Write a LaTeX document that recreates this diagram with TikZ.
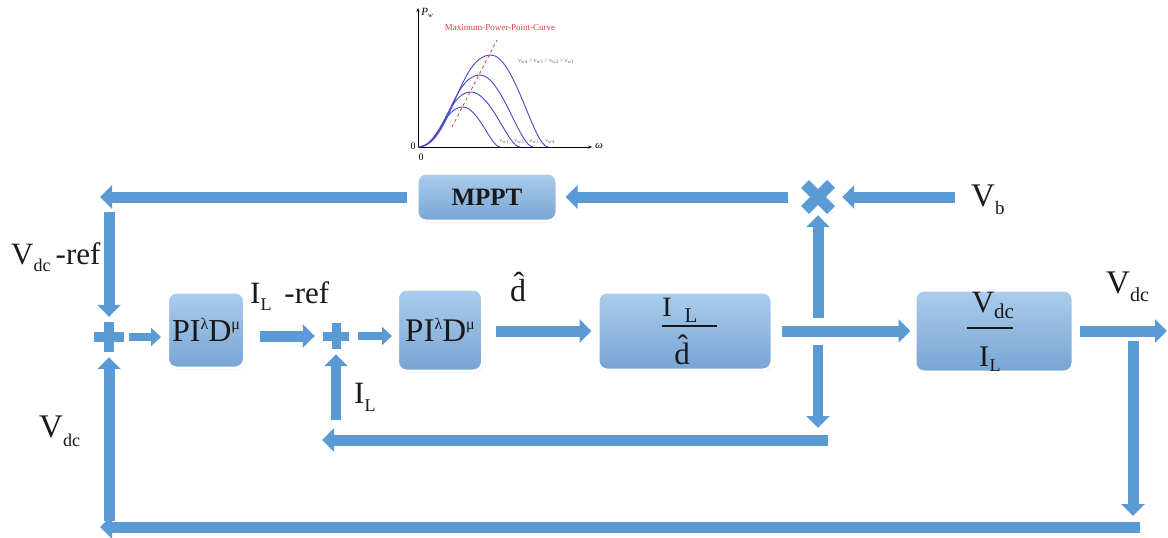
\documentclass[tikz,border=0pt]{standalone}
\usepackage{fontspec}
\setmainfont{Liberation Serif}
\usetikzlibrary{arrows.meta,shadows}
\definecolor{ablue}{RGB}{91,155,213}
\definecolor{boxtop}{RGB}{172,205,236}
\definecolor{boxbot}{RGB}{120,164,212}
\definecolor{curveblue}{RGB}{72,72,200}
\definecolor{mppred}{RGB}{225,60,70}
\definecolor{txt}{RGB}{25,25,25}
\newcommand\fsz[1]{\fontsize{#1}{#1}\selectfont}
\begin{document}
\begin{tikzpicture}[x=1pt,y=-1pt,
  blk/.style={rounded corners=9pt, top color=boxtop, bottom color=boxbot, draw=white, line width=3pt,
    drop shadow={opacity=0.3,shadow xshift=1pt,shadow yshift=-1.5pt}, inner sep=0pt, text=txt},
  barrow/.style={draw=ablue, line width=11pt, -{Triangle[width=23pt,length=12pt]}},
  tarrow/.style={draw=ablue, line width=8pt, -{Triangle[width=18pt,length=10pt]}},
  lbl/.style={inner sep=0pt, text=txt, font=\fsz{31}},
  flbl/.style={inner sep=0pt, text=txt, font=\fsz{28}},
  slbl/.style={inner sep=0pt, text=txt, font=\fsz{18}},
  junc/.style={inner sep=0pt, minimum size=30pt},
  curve/.style={draw=curveblue, line width=0.9pt},
  tiny/.style={inner sep=0pt, text=black!60, font=\fsz{6}},
]
\useasboundingbox (0,0) rectangle (1168,538);
\fill[white] (0,0) rectangle (1168,538);

% ---- small power curve plot ----
\draw[black, line width=0.6pt, -{Stealth[length=4pt,width=3pt]}] (418,147) -- (418,8);
\draw[black, line width=0.6pt, -{Stealth[length=4pt,width=3pt]}] (418,147) -- (592,147);
\node[inner sep=0pt, font=\itshape\fsz{11}] (pw) at (427,13) {P\raisebox{-2pt}{\fsz{7}w}};
\node[inner sep=0pt, font=\itshape\fsz{11}] (om) at (599,146) {ω};
\node[inner sep=0pt, font=\fsz{10}] (z1) at (421,157) {0};
\node[inner sep=0pt, font=\fsz{10}] (z2) at (413,146) {0};
\node[inner sep=0pt, text=mppred, font=\fsz{9}] (mtitle) at (500,28) {Maximum-Power-Point-Curve};
\draw[curve] (418,147) .. controls (451,147) and (458,55) .. (491,55) .. controls (514,55) and (534,147) .. (548,147);
\draw[curve] (418,147) .. controls (446,147) and (452,75) .. (480,75) .. controls (501,75) and (520,147) .. (533,147);
\draw[curve] (418,147) .. controls (442,147) and (447,92) .. (471,92) .. controls (491,92) and (508,147) .. (520,147);
\draw[curve] (418,147) .. controls (438,147) and (443,107) .. (463,107) .. controls (478,107) and (491,147) .. (500,147);
\draw[mppred, dashed, line width=0.8pt] (452,127) -- (497,40);
\node[tiny] (vord) at (546,61) {v\raisebox{-1pt}{\fsz{5}w4} > v\raisebox{-1pt}{\fsz{5}w3} > v\raisebox{-1pt}{\fsz{5}w2} > v\raisebox{-1pt}{\fsz{5}w1}};
\node[tiny] (v1) at (504,142) {v\raisebox{-1pt}{\fsz{5}w1}};
\node[tiny] (v2) at (519,142) {v\raisebox{-1pt}{\fsz{5}w2}};
\node[tiny] (v3) at (534,142) {v\raisebox{-1pt}{\fsz{5}w3}};
\node[tiny] (v4) at (550,142) {v\raisebox{-1pt}{\fsz{5}w4}};

% ---- blocks ----
\node[blk, minimum width=140pt, minimum height=48pt, font=\bfseries\fsz{25}] (mppt) at (487,197) {MPPT};
\node[blk, minimum width=77pt, minimum height=76pt, font=\fsz{32}] (pid1) at (206,330)
  {PI\raisebox{12pt}{\fsz{16}λ}D\raisebox{12pt}{\fsz{16}μ}};
\node[blk, minimum width=85pt, minimum height=82pt, font=\fsz{33}] (pid2) at (440,330)
  {PI\raisebox{12pt}{\fsz{16}λ}D\raisebox{12pt}{\fsz{16}μ}};
\node[blk, minimum width=174pt, minimum height=78pt] (frac) at (685,331) {};
\node[blk, minimum width=158pt, minimum height=82pt] (plant) at (994,331) {};

% fraction I_L / d-hat
\node[flbl] (fI) at (667,307) {I};
\node[slbl, font=\fsz{21}] (fL) at (691,316) {L};
\draw[txt, line width=1.2pt] (662,326) -- (717,326);
\node[flbl, font=\fsz{31}] (fd) at (682,350) {\^{d}};
% fraction V_dc / I_L
\node[flbl, font=\fsz{31}] (pV) at (983,303) {V};
\node[slbl, font=\fsz{21}] (pdc) at (1004,311) {dc};
\draw[txt, line width=1.2pt] (967,328) -- (1013,328);
\node[flbl, font=\fsz{30}] (pI) at (984,357) {I};
\node[slbl] (pL) at (995,366) {L};

% ---- junctions ----
\node[junc] (s1) at (109,337) {};
\fill[ablue] (94,332) rectangle (124,342);
\fill[ablue] (104,322) rectangle (114,352);
\node[junc, minimum size=26pt] (s2) at (336,336) {};
\fill[ablue] (323,331.5) rectangle (349,340.5);
\fill[ablue] (331.5,323) rectangle (340.5,349);
\node[junc, minimum size=36pt] (mult) at (818,197) {};
\draw[ablue, line width=11pt] (805,184) -- (831,210);
\draw[ablue, line width=11pt] (805,210) -- (831,184);

% ---- free ends ----
\coordinate (tl) at (100,197);
\coordinate (vtop) at (109,212);
\coordinate (bu) at (818,318);
\coordinate (bd1) at (818,345);
\coordinate (bd2) at (818,428);
\coordinate (fbr) at (828,440);
\coordinate (fbl) at (322,440);
\coordinate (ilb) at (336,420);
\coordinate (out) at (1167,331);
\coordinate (rv1) at (1133,341);
\coordinate (rv2) at (1133,516);
\coordinate (bt1) at (1140,527);
\coordinate (bt2) at (100,527);
\coordinate (lv) at (109,521);
\coordinate (vbs) at (955,197);

% ---- connectors ----
\draw[barrow, shorten <=12pt, shorten >=7pt] (mult.west) -- (mppt.east);
\draw[barrow, shorten <=9pt] (mppt.west) -- (tl);
\draw[barrow, shorten >=5pt] (vtop) -- (s1.north);
\draw[tarrow, shorten <=5pt, shorten >=5pt] (s1.east) -- (s1.east -| pid1.west);
\draw[barrow, shorten <=14pt, shorten >=8pt] (pid1.east |- s2.west) -- (s2.west);
\draw[tarrow, shorten <=9pt, shorten >=4pt] (s2.east) -- (s2.east -| pid2.west);
\draw[barrow, shorten <=12pt, shorten >=5pt] (pid2.east |- frac.west) -- (frac.west);
\draw[barrow, shorten <=8pt, shorten >=3pt] (frac.east) -- (plant.west);
\draw[barrow] (bu) -- (mult.south);
\draw[barrow, line width=10pt] (bd1) -- (bd2);
\draw[barrow] (fbr) -- (fbl);
\draw[barrow, line width=10pt, shorten >=5pt] (ilb) -- (s2.south);
\draw[barrow, shorten <=5pt] (plant.east) -- (out);
\draw[barrow] (rv1) -- (rv2);
\draw[barrow] (bt1) -- (bt2);
\draw[barrow, shorten >=5pt] (lv) -- (s1.south);
\draw[barrow, shorten >=6pt] (vbs) -- (mult.east);

% ---- labels ----
\node[lbl, anchor=base west] (vref) at (11,264) {V\raisebox{-7pt}{\fsz{18}dc}\,-ref};
\node[lbl, anchor=base west] (ilref) at (250,303) {I\raisebox{-7pt}{\fsz{18}L}\, -ref};
\node[lbl, font=\fsz{32}] (dhat) at (518,287) {\^{d}};
\node[lbl, anchor=base west, font=\fsz{33}] (vb) at (971,206) {V\raisebox{-8pt}{\fsz{19}b}};
\node[lbl, anchor=base west, font=\fsz{33}] (vdcr) at (1106,293) {V\raisebox{-8pt}{\fsz{20}dc}};
\node[lbl, anchor=base west, font=\fsz{33}] (vdcl) at (39,437) {V\raisebox{-9pt}{\fsz{18}dc}};
\node[lbl, anchor=base west] (il) at (354,403) {I\raisebox{-8pt}{\fsz{18}L}};
\end{tikzpicture}
\end{document}
